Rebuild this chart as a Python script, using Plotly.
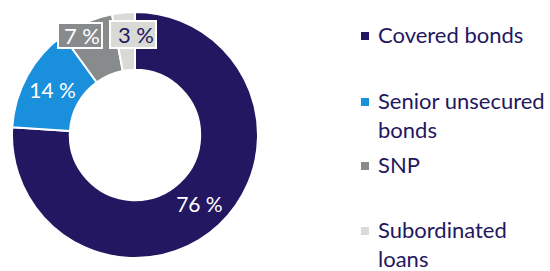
import plotly.graph_objects as go

categories = ["Covered bonds", "Senior unsecured bonds", "SNP", "Subordinated loans"]
legend_labels = ["Covered bonds", "Senior unsecured<br>bonds", "SNP", "Subordinated<br>loans"]
values = [76, 14, 7, 3]
colors = ["#241761", "#1a8fdc", "#878b8b", "#d9dad5"]

NAVY = "#241761"
FONT = "Lato"
W, H = 550, 271

# pie geometry (pixels)
cx, cy, R = 135, 135, 123
hole = 0.53

inside_text = [f"{v} %" if v >= 10 else "" for v in values]

fig = go.Figure(go.Pie(
    labels=categories,
    values=values,
    hole=hole,
    sort=False,
    direction="clockwise",
    rotation=0,
    marker=dict(colors=colors, line=dict(color="white", width=2)),
    text=inside_text,
    textinfo="text",
    textposition="inside",
    insidetextorientation="horizontal",
    textfont=dict(family=FONT, size=21, color="white"),
    hoverinfo="label+value",
    showlegend=False,
    domain=dict(x=[(cx - R) / W, (cx + R) / W], y=[(H - cy - R) / H, (H - cy + R) / H]),
))

annotations = []
# boxed labels for small slices
box_pos = {2: (80, 35.5), 3: (133, 34.5)}
box_size = {2: (40, 21), 3: (42, 23)}
box_text_col = {2: "white", 3: NAVY}
for i, (px, py) in box_pos.items():
    bw, bh = box_size[i]
    annotations.append(dict(
        x=px / W, y=1 - py / H, xref="paper", yref="paper",
        text=f"{values[i]} %", showarrow=False,
        font=dict(family=FONT, size=22, color=box_text_col[i]),
        bgcolor=colors[i], bordercolor="white", borderwidth=2, borderpad=1,
        width=bw, height=bh, align="right", valign="middle",
        xanchor="center", yanchor="middle",
    ))

# custom legend
shapes = []
leg_y = [36, 102, 166, 231]
sq = 8
for i, lab in enumerate(legend_labels):
    y = leg_y[i]
    shapes.append(dict(type="rect", xref="paper", yref="paper",
                       x0=361 / W, x1=(361 + sq) / W,
                       y0=1 - (y + sq / 2) / H, y1=1 - (y - sq / 2) / H,
                       fillcolor=colors[i], line=dict(width=0)))
    annotations.append(dict(
        x=376 / W, y=1 - (y - 17) / H, xref="paper", yref="paper",
        text=lab, showarrow=False, align="left",
        xanchor="left", yanchor="top",
        font=dict(family=FONT, size=22, color=NAVY),
    ))

fig.update_layout(
    width=W, height=H,
    margin=dict(l=0, r=0, t=0, b=0),
    paper_bgcolor="white", plot_bgcolor="white",
    annotations=annotations, shapes=shapes,
    uniformtext=dict(minsize=21, mode="show"),
)

fig.write_html(
    "out.html",
    config={"displayModeBar": False},
    post_script="document.body.style.margin='0px';document.body.style.overflow='hidden';",
)
